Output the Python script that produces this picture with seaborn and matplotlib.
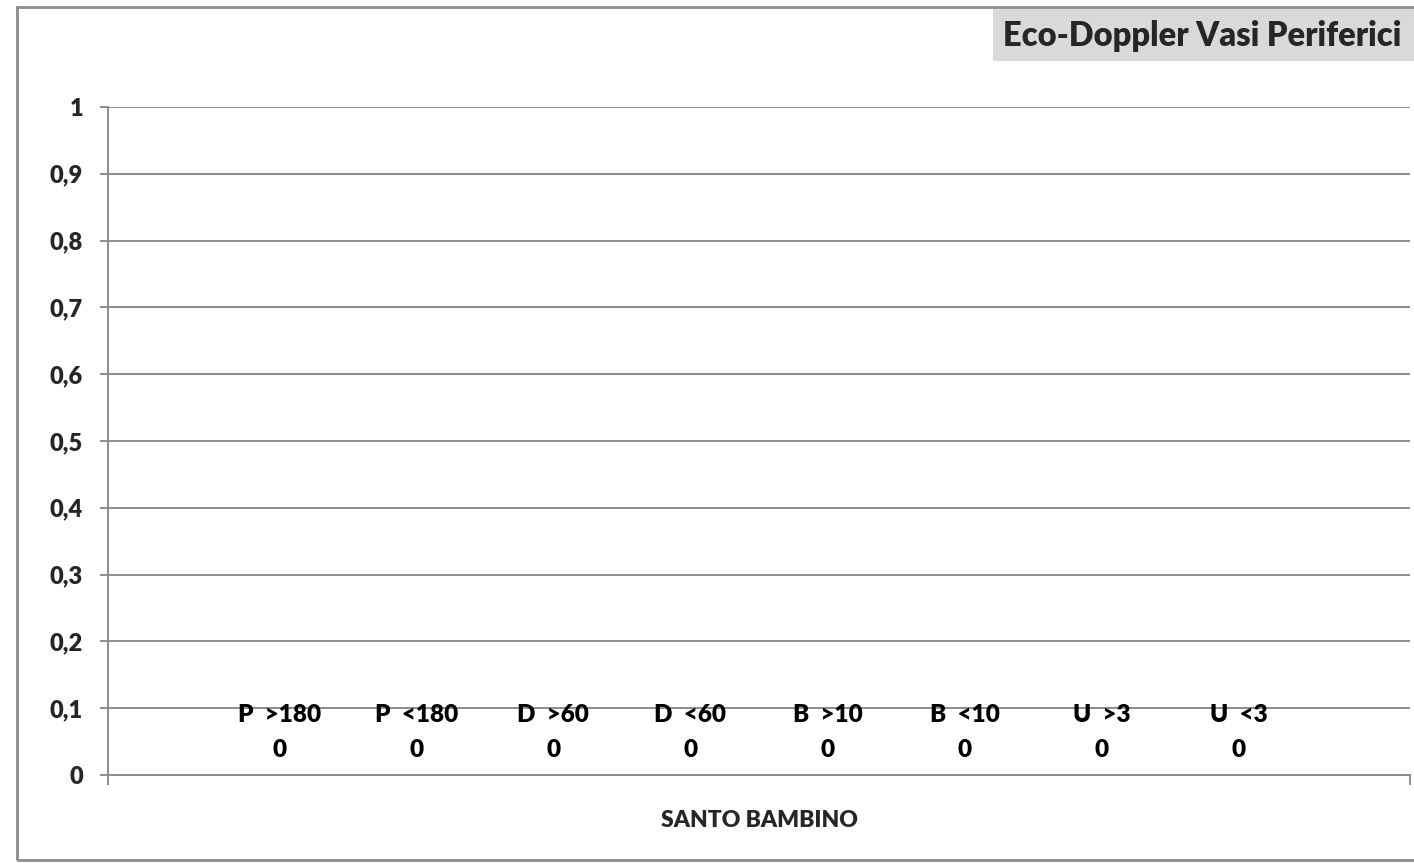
import pandas as pd
import seaborn as sns
import matplotlib.pyplot as plt
from matplotlib.patches import Rectangle
from matplotlib.ticker import FuncFormatter

# dati
categoria = "SANTO BAMBINO"
serie = ["P  >180", "P  <180", "D  >60", "D  <60", "B  >10", "B  <10", "U  >3", "U  <3"]
valori = [0, 0, 0, 0, 0, 0, 0, 0]
titolo = "Eco-Doppler Vasi Periferici"
y_ticks = [0, 0.1, 0.2, 0.3, 0.4, 0.5, 0.6, 0.7, 0.8, 0.9, 1]

df = pd.DataFrame({"gruppo": [categoria] * len(serie), "serie": serie, "valore": valori})

sns.set_theme(style="white")
plt.rcParams['font.family'] = ['Lato', 'DejaVu Sans']
peso = 'heavy'

grigio = '#8c8c8c'
W, H = 1414, 863
fig = plt.figure(figsize=(W / 100, H / 100), dpi=100)
ax = fig.add_axes([108 / W, 1 - 775 / H, (1410 - 108) / W, (775 - 107) / H])

sns.barplot(data=df, x="gruppo", y="valore", hue="serie", hue_order=serie,
            dodge=True, width=0.8, legend=False, ax=ax, color='#4f81bd')

for cont, nome, v in zip(ax.containers, serie, valori):
    ax.bar_label(cont, labels=[f"{nome}\n{v}"], padding=10, fontsize=17.5,
                 fontweight=peso, linespacing=1.75, color='black')

ax.set_xlim(-0.475, 0.475)
ax.set_ylim(0, 1)
ax.set_yticks(y_ticks)
ax.yaxis.set_major_formatter(FuncFormatter(
    lambda v, p: f"{v:.1f}".replace('.', ',') if v not in (0, 1) else f"{int(v)}"))
ax.grid(axis='y', color=grigio, linewidth=1.4)
ax.set_axisbelow(True)

ax.set_xticks([0])
ax.set_xticklabels([categoria])
ax.set_xticks([-0.475, 0.475], minor=True)
ax.tick_params(axis='x', which='major', length=0, pad=25, labelsize=16.5)
ax.tick_params(axis='x', which='minor', length=7, width=1.4, color=grigio, direction='out')
ax.tick_params(axis='y', length=6, width=1.4, color=grigio, direction='out', pad=12, labelsize=17)
ax.tick_params(axis='both', bottom=True, left=True, which='both')
for lab in ax.get_xticklabels() + ax.get_yticklabels():
    lab.set_fontweight(peso)
ax.set_xlabel("")
ax.set_ylabel("")

for s in ['top', 'right']:
    ax.spines[s].set_visible(False)
for s in ['left', 'bottom']:
    ax.spines[s].set_color(grigio)
    ax.spines[s].set_linewidth(1.4)

# cornice del grafico
fig.patches.append(Rectangle((17 / W, 3 / H), 1.1, (856 - 3) / H, transform=fig.transFigure,
                             fill=False, edgecolor=grigio, linewidth=2, zorder=0))
# riquadro del titolo
fig.patches.append(Rectangle((993 / W, 1 - 61 / H), 0.5, 52 / H, transform=fig.transFigure,
                             facecolor='#d9d9d9', edgecolor='none', zorder=1))
fig.text(1003 / W, 1 - 36 / H, titolo, fontsize=23.5, fontweight=peso, va='center', ha='left', zorder=2)

plt.savefig('out.png', dpi=100)
plt.close()
